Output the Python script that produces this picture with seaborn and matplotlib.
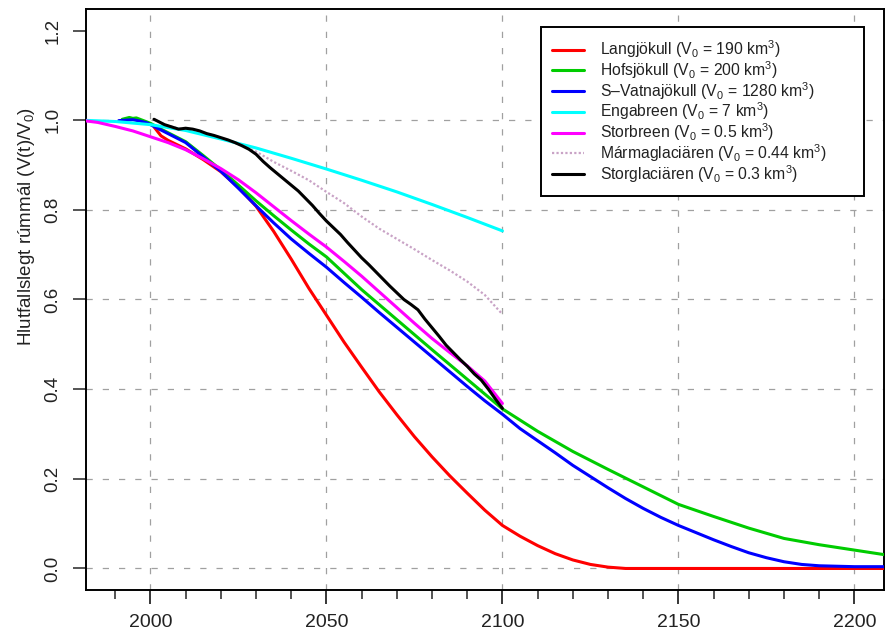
import matplotlib
matplotlib.use("Agg")
import matplotlib.pyplot as plt
import seaborn as sns
import pandas as pd
from matplotlib.ticker import MultipleLocator, FixedLocator

# ---------------- data ----------------
lang_years = [2001, 2003, 2005, 2010, 2015, 2020, 2025, 2030, 2035, 2040, 2045, 2050, 2055, 2060,
              2065, 2070, 2075, 2080, 2085, 2090, 2095, 2100, 2105, 2110, 2115, 2120, 2125, 2130,
              2135, 2150, 2180, 2210]
lang_vals = [0.985, 0.965, 0.955, 0.936, 0.912, 0.885, 0.850, 0.808, 0.752, 0.690, 0.625, 0.565,
             0.505, 0.449, 0.394, 0.343, 0.294, 0.249, 0.207, 0.168, 0.130, 0.096, 0.072, 0.051,
             0.033, 0.019, 0.009, 0.003, 0.0, 0.0, 0.0, 0.0]

hofs_years = [1992, 1993, 1994, 1995, 1996, 1997, 1998, 2000, 2003, 2005, 2010, 2015, 2020, 2025,
              2030, 2035, 2040, 2045, 2050, 2060, 2070, 2080, 2090, 2100, 2110, 2120, 2130, 2140,
              2150, 2160, 2170, 2180, 2190, 2200, 2210]
hofs_vals = [1.002, 1.004, 1.006, 1.004, 1.005, 1.002, 0.999, 0.993, 0.980, 0.972, 0.952, 0.921,
             0.889, 0.855, 0.820, 0.787, 0.755, 0.724, 0.695, 0.622, 0.555, 0.488, 0.422, 0.356,
             0.306, 0.261, 0.221, 0.182, 0.143, 0.116, 0.090, 0.067, 0.053, 0.041, 0.029]

vatna_years = [1991, 1993, 1995, 1997, 1999, 2000, 2003, 2005, 2010, 2015, 2020, 2025, 2030, 2035,
               2040, 2045, 2050, 2055, 2060, 2065, 2070, 2075, 2080, 2085, 2090, 2095, 2100, 2105,
               2110, 2115, 2120, 2125, 2130, 2135, 2140, 2145, 2150, 2155, 2160, 2165, 2170, 2175,
               2180, 2185, 2190, 2195, 2200, 2210]
vatna_vals = [0.999, 1.000, 1.001, 0.998, 0.994, 0.990, 0.978, 0.970, 0.950, 0.918, 0.886, 0.848,
              0.809, 0.771, 0.735, 0.703, 0.672, 0.638, 0.605, 0.571, 0.538, 0.505, 0.472, 0.439,
              0.406, 0.374, 0.344, 0.312, 0.285, 0.258, 0.230, 0.205, 0.180, 0.156, 0.134, 0.114,
              0.096, 0.080, 0.064, 0.049, 0.035, 0.024, 0.015, 0.009, 0.006, 0.005, 0.004, 0.004]

enga_years = [1980, 1990, 2000, 2010, 2020, 2030, 2040, 2050, 2060, 2070, 2080, 2090, 2100]
enga_vals = [1.000, 0.997, 0.990, 0.977, 0.958, 0.938, 0.915, 0.891, 0.866, 0.840, 0.812, 0.783, 0.753]

storb_years = [1980, 1985, 1990, 1995, 2000, 2005, 2010, 2015, 2020, 2025, 2030, 2035, 2040, 2045,
               2050, 2055, 2060, 2065, 2070, 2075, 2080, 2085, 2090, 2095, 2100]
storb_vals = [1.000, 0.995, 0.986, 0.976, 0.963, 0.950, 0.934, 0.914, 0.892, 0.867, 0.838, 0.807,
              0.776, 0.746, 0.717, 0.685, 0.652, 0.617, 0.582, 0.547, 0.513, 0.482, 0.452, 0.418, 0.368]

marma_years = [2001, 2004, 2008, 2012, 2016, 2020, 2025, 2030, 2035, 2040, 2045, 2050, 2055, 2060,
               2065, 2070, 2075, 2080, 2085, 2090, 2095, 2100]
marma_vals = [1.002, 0.990, 0.981, 0.980, 0.970, 0.961, 0.947, 0.930, 0.907, 0.887, 0.866, 0.840,
              0.815, 0.785, 0.758, 0.735, 0.712, 0.688, 0.665, 0.640, 0.610, 0.567]

storg_years = [2001, 2002, 2004, 2006, 2008, 2010, 2012, 2014, 2016, 2018, 2020, 2022, 2024, 2026,
               2028, 2030, 2032, 2034, 2036, 2038, 2040, 2042, 2044, 2046, 2048, 2050, 2052, 2054,
               2056, 2058, 2060, 2062, 2064, 2066, 2068, 2070, 2072, 2074, 2076, 2078, 2080, 2082,
               2084, 2086, 2088, 2090, 2092, 2094, 2096, 2098, 2100]
storg_vals = [1.002, 0.998, 0.990, 0.985, 0.980, 0.982, 0.980, 0.976, 0.970, 0.966, 0.961, 0.956,
              0.950, 0.943, 0.935, 0.924, 0.908, 0.894, 0.881, 0.868, 0.855, 0.842, 0.826, 0.810,
              0.792, 0.775, 0.760, 0.745, 0.727, 0.710, 0.693, 0.678, 0.662, 0.646, 0.630, 0.615,
              0.600, 0.589, 0.577, 0.556, 0.537, 0.518, 0.498, 0.482, 0.466, 0.451, 0.434, 0.420,
              0.400, 0.378, 0.357]

labels = [r"Langjökull (V$_0$ = 190 km$^3$)",
          r"Hofsjökull (V$_0$ = 200 km$^3$)",
          "S\u2013Vatnajökull (V$_0$ = 1280 km$^3$)",
          r"Engabreen (V$_0$ = 7 km$^3$)",
          r"Storbreen (V$_0$ = 0.5 km$^3$)",
          r"Mármaglaciären (V$_0$ = 0.44 km$^3$)",
          r"Storglaciären (V$_0$ = 0.3 km$^3$)"]
colors = ["#ff0000", "#00cc00", "#0000ff", "#00ffff", "#ff00ff", "#c9a3c6", "#000000"]

x_ticks = [2000, 2050, 2100, 2150, 2200]
y_ticks = [0.0, 0.2, 0.4, 0.6, 0.8, 1.0, 1.2]
y_ticklabels = ["0.0", "0.2", "0.4", "0.6", "0.8", "1.0", "1.2"]
y_label = "Hlutfallslegt rúmmál (V(t)/V$_0$)"

series = [(lang_years, lang_vals), (hofs_years, hofs_vals), (vatna_years, vatna_vals),
          (enga_years, enga_vals), (storb_years, storb_vals), (marma_years, marma_vals),
          (storg_years, storg_vals)]

# ---------------- style ----------------
sns.set_style("white")
plt.rcParams["font.family"] = ["Liberation Sans", "DejaVu Sans"]
plt.rcParams["mathtext.fontset"] = "custom"
plt.rcParams["mathtext.rm"] = "Liberation Sans"
plt.rcParams["mathtext.it"] = "Liberation Sans:italic"
plt.rcParams["mathtext.default"] = "regular"

fig = plt.figure(figsize=(8.87, 6.37), dpi=100)
ax = fig.add_axes([0.0966, 0.0738, 0.9000, 0.9121])

# grid
for xv in x_ticks:
    ax.axvline(xv, color="#a0a0a0", lw=0.9, ls=(0, (5, 8)), zorder=0)
for yv in y_ticks[:-1]:
    ax.axhline(yv, color="#a0a0a0", lw=0.9, ls=(0, (5, 8)), zorder=0)

for i, ((xs, ys), lab, col) in enumerate(zip(series, labels, colors)):
    df = pd.DataFrame({"year": xs, "v": ys})
    if i == 5:
        sns.lineplot(data=df, x="year", y="v", ax=ax, color=col, lw=1.6, ls=(0, (1, 1)),
                     label=lab, zorder=3)
    else:
        sns.lineplot(data=df, x="year", y="v", ax=ax, color=col, lw=2.2, label=lab, zorder=3)

ax.set_xlim(1981.6, 2208.4)
ax.set_ylim(-0.048, 1.248)

ax.xaxis.set_major_locator(FixedLocator(x_ticks))
ax.xaxis.set_minor_locator(MultipleLocator(10))
ax.set_yticks(y_ticks)
ax.set_yticklabels(y_ticklabels, rotation=90, va="center")
ax.tick_params(axis="x", which="major", length=10, width=1.1, pad=7, labelsize=14, direction="out",
               bottom=True, colors="black")
ax.tick_params(axis="x", which="minor", length=6.5, width=1.1, direction="out", bottom=True)
ax.tick_params(axis="y", which="major", length=9.5, width=1.1, pad=8, labelsize=13.5, direction="out",
               left=True)
for lbl in ax.get_xticklabels() + ax.get_yticklabels():
    lbl.set_color("#222222")

for sp in ax.spines.values():
    sp.set_color("black")
    sp.set_linewidth(1.4)

ax.set_xlabel("")
ax.set_ylabel(y_label, fontsize=13.5, color="#222222")
ax.yaxis.set_label_coords(-0.061, 0.625)

leg_top = 1 - 27 / 637
leg = ax.legend(loc="upper left", bbox_to_anchor=(541 / 887, leg_top - 0.4, 323 / 887, 0.4),
                bbox_transform=fig.transFigure, mode="expand", borderaxespad=0, fancybox=False,
                edgecolor="black", framealpha=1, fontsize=11.3, handlelength=2.05,
                handletextpad=1.0, labelspacing=-0.06, borderpad=0.72)
leg.get_frame().set_linewidth(1.4)
for t in leg.get_texts():
    t.set_color("#222222")

fig.savefig("out.png", dpi=100)
